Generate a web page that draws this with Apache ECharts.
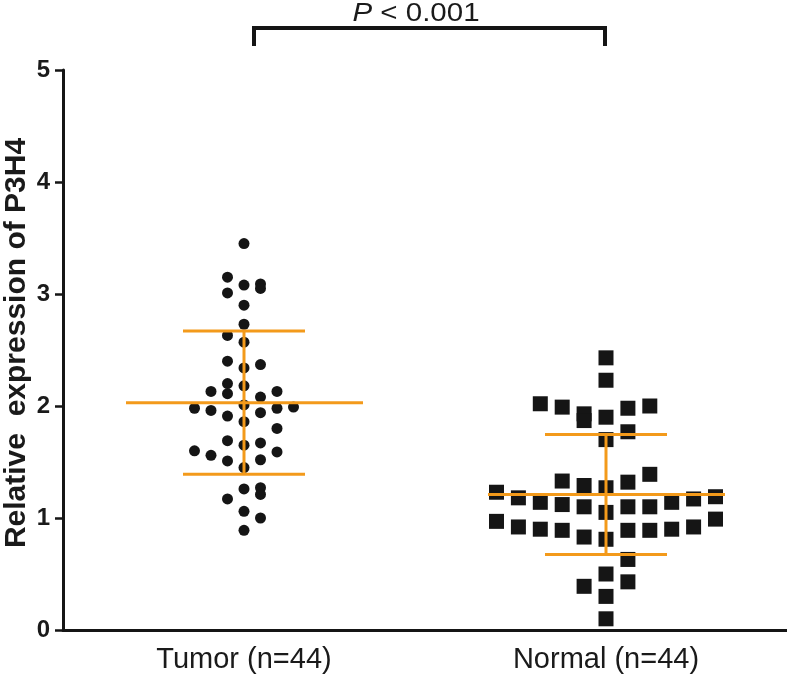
<!DOCTYPE html>
<html>
<head>
<meta charset="utf-8">
<script src="https://cdn.jsdelivr.net/npm/echarts@6/dist/echarts.min.js"></script>
<style>
  html, body { margin: 0; padding: 0; background: #fff; }
  #chart { width: 787px; height: 680px; }
</style>
</head>
<body>
<div id="chart"></div>
<script>
// groups on the x axis
var groups = ['Tumor (n=44)', 'Normal (n=44)'];
var yTicks = [0, 1, 2, 3, 4, 5];

// Tumor: relative expression, and jitter lane of each dot
var tumorValues = [3.45, 3.15, 3.08, 3.09, 3.05, 3.01, 2.90, 2.73, 2.63, 2.57,
                   2.40, 2.34, 2.37, 2.20, 2.18, 2.13, 2.11, 2.13, 2.08, 1.98,
                   1.96, 2.01, 1.98, 1.99, 1.94, 1.91, 1.86, 1.80, 1.69, 1.65,
                   1.67, 1.60, 1.56, 1.59, 1.51, 1.52, 1.45, 1.26, 1.27, 1.21,
                   1.17, 1.06, 1.00, 0.89];
var tumorLane = [0, -1, 0, 1, 1, -1, 0, 0, -1, 0,
                 -1, 0, 1, -1, 0, -2, -1, 2, 1, -3,
                 -2, 0, 2, 3, 1, -1, 0, 2, -1, 0,
                 1, -3, -2, 2, -1, 1, 0, 0, 1, 1,
                 -1, 0, 1, 0];

// Normal
var normalValues = [2.43, 2.23, 2.02, 1.99, 1.93, 1.87, 1.90, 1.98, 2.00, 1.77,
                    1.70, 1.23, 1.18, 1.14, 1.33, 1.12, 1.29, 1.10, 1.27, 1.05,
                    1.32, 1.10, 1.39, 1.10, 1.14, 1.17, 1.19, 0.97, 0.92, 0.90,
                    0.89, 0.83, 0.81, 0.89, 0.89, 0.90, 0.92, 0.99, 0.63, 0.50,
                    0.39, 0.43, 0.30, 0.10];
var normalLane = [0, 0, -3, -2, -1, -1, 0, 1, 2, 1,
                  0, -5, -4, -3, -2, -2, -1, -1, 0, 0,
                  1, 1, 2, 2, 3, 4, 5, -5, -4, -3,
                  -2, -1, 0, 1, 2, 3, 4, 5, 1, 0,
                  -1, 1, 0, 0];

// mean and SD bars
var groupMean = [2.03, 1.21];
var groupSD = [0.64, 0.535];

var pText = '{i|P} < 0.001';

var orange = '#F39A1B';
var ink = '#151515';

function toPoints(catIdx, values, lanes, step) {
    return values.map(function (v, i) {
        return {
            value: [catIdx, v],
            symbolOffset: [lanes[i] * step, 0]
        };
    });
}

var chart = echarts.init(document.getElementById('chart'));
var option = {
    animation: false,
    backgroundColor: '#fff',
    grid: {
        left: 63,
        right: 0,
        top: 70,
        bottom: 50,
        containLabel: false,
        outerBoundsMode: 'none'
    },
    xAxis: {
        type: 'category',
        data: groups,
        boundaryGap: true,
        axisLine: { lineStyle: { color: ink, width: 3 } },
        axisTick: { alignWithLabel: true, length: 9, lineStyle: { color: ink, width: 3 } },
        axisLabel: {
            color: '#1a1a1a',
            fontFamily: 'Liberation Sans',
            fontSize: 29,
            margin: 15
        },
        splitLine: { show: false }
    },
    yAxis: {
        type: 'value',
        min: yTicks[0],
        max: yTicks[yTicks.length - 1],
        interval: 1,
        name: 'Relative  expression of P3H4',
        nameLocation: 'middle',
        nameGap: 31,
        nameMoveOverlap: false,
        nameTextStyle: {
            color: '#1a1a1a',
            fontFamily: 'Liberation Sans',
            fontWeight: 'bold',
            fontSize: 30,
            padding: [0, 0, 0, 14]
        },
        axisLine: { show: true, lineStyle: { color: ink, width: 3 } },
        axisTick: { show: true, length: 8, lineStyle: { color: ink, width: 2.5 } },
        axisLabel: {
            color: '#1a1a1a',
            fontFamily: 'Liberation Sans',
            fontWeight: 'bold',
            fontSize: 24,
            margin: 13
        },
        splitLine: { show: false }
    },
    series: [
        {
            name: 'Tumor',
            type: 'scatter',
            symbol: 'circle',
            symbolSize: 11,
            itemStyle: { color: ink, opacity: 1 },
            data: toPoints(0, tumorValues, tumorLane, 16.5),
            z: 2
        },
        {
            name: 'Normal',
            type: 'scatter',
            symbol: 'rect',
            symbolSize: 15,
            itemStyle: { color: ink, opacity: 1 },
            data: toPoints(1, normalValues, normalLane, 21.9),
            z: 2
        },
        {
            // mean line + SD whiskers
            type: 'custom',
            z: 5,
            data: groupMean.map(function (m, i) { return [i, m, groupSD[i]]; }),
            renderItem: function (params, api) {
                var c = api.coord([api.value(0), api.value(1)]);
                var hi = api.coord([api.value(0), api.value(1) + api.value(2)]);
                var lo = api.coord([api.value(0), api.value(1) - api.value(2)]);
                var style = { stroke: orange, lineWidth: 3 };
                return {
                    type: 'group',
                    children: [
                        { type: 'line', shape: { x1: c[0] - 118, y1: c[1], x2: c[0] + 119, y2: c[1] }, style: style },
                        { type: 'line', shape: { x1: c[0], y1: hi[1], x2: c[0], y2: lo[1] }, style: style },
                        { type: 'line', shape: { x1: c[0] - 61, y1: hi[1], x2: c[0] + 61, y2: hi[1] }, style: style },
                        { type: 'line', shape: { x1: c[0] - 61, y1: lo[1], x2: c[0] + 61, y2: lo[1] }, style: style }
                    ]
                };
            }
        }
    ],
    graphic: [
        {
            type: 'polyline',
            shape: { points: [[254, 46], [254, 28], [605, 28], [605, 46]] },
            style: { stroke: ink, lineWidth: 4, fill: null }
        },
        {
            type: 'text',
            x: 416,
            y: 14,
            scaleX: 1.18,
            style: {
                text: pText,
                align: 'center',
                verticalAlign: 'middle',
                fontFamily: 'Liberation Sans',
                fontSize: 25,
                fill: '#1a1a1a',
                rich: {
                    i: { fontStyle: 'italic', fontFamily: 'Liberation Sans', fontSize: 25, fill: '#1a1a1a' }
                }
            }
        }
    ]
};
chart.setOption(option);
window.addEventListener('resize', function () {
    chart.resize();
});
</script>
</body>
</html>
